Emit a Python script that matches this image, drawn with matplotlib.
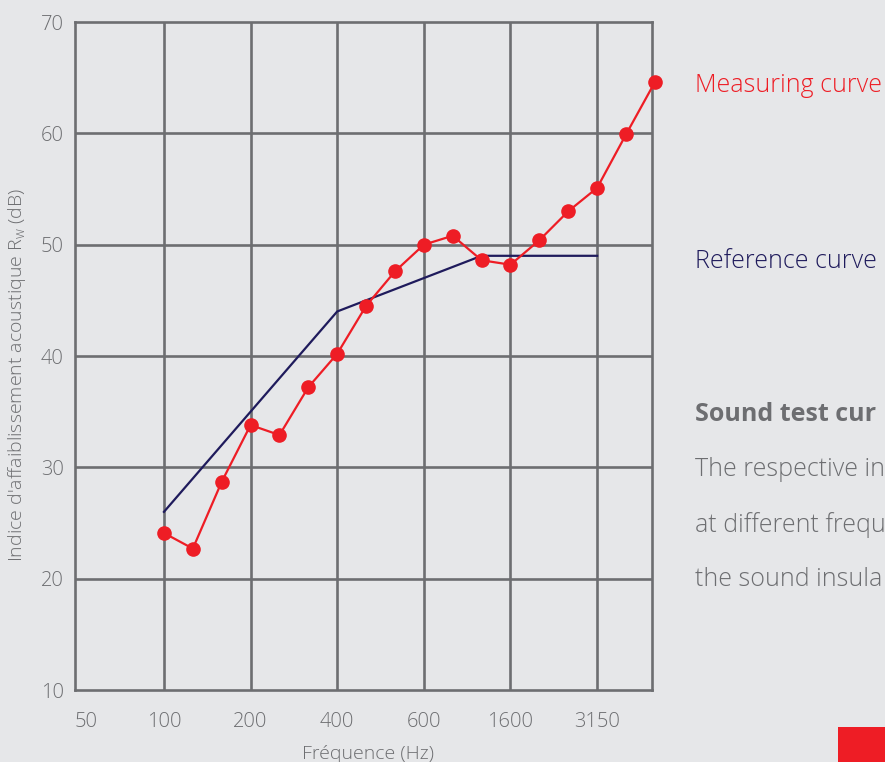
import matplotlib
matplotlib.use("Agg")
import matplotlib.pyplot as plt
from matplotlib.patches import Rectangle
import numpy as np

# Data (third-octave bands 100 Hz .. 5000 Hz, indexed 0..17)
bands = ["100", "125", "160", "200", "250", "315", "400", "500", "630", "800",
         "1000", "1250", "1600", "2000", "2500", "3150", "4000", "5000"]
measuring = [24.1, 22.7, 28.7, 33.8, 32.9, 37.2, 40.2, 44.5, 47.6, 50.0,
             50.8, 48.6, 48.2, 50.4, 53.0, 55.1, 59.9, 64.6]
reference = [26, 29, 32, 35, 38, 41, 44, 45, 46, 47, 48, 49, 49, 49, 49, 49]
tick_labels = ["50", "100", "200", "400", "600", "1600", "3150"]
y_ticks = [10, 20, 30, 40, 50, 60, 70]

RED = "#ee1d25"
NAVY = "#1f1b5c"
GRAY = "#6d6e71"
BG = "#e6e7e9"

plt.rcParams["font.family"] = ["Open Sans", "DejaVu Sans"]

fig = plt.figure(figsize=(8.85, 7.62), dpi=100, facecolor=BG)
ax = fig.add_axes([75/885, 1-690/762, (652-75)/885, (690-22)/762])
ax.set_facecolor(BG)

x_meas = np.arange(len(measuring))
x_ref = np.arange(len(reference))

ax.set_xlim(-3.08, 16.9)
ax.set_ylim(10, 70)

# grid
for gx in [0, 3, 6, 9, 12, 15]:
    ax.axvline(gx, color=GRAY, lw=1.9, zorder=1)
for gy in y_ticks[1:-1]:
    ax.axhline(gy, color=GRAY, lw=1.9, zorder=1)
for s in ax.spines.values():
    s.set_color(GRAY)
    s.set_linewidth(1.9)

ax.plot(x_ref, reference, color=NAVY, lw=1.6, zorder=3, solid_joinstyle="miter")
ax.plot(x_meas, measuring, color=RED, lw=1.6, marker="o", markersize=9.5,
        markerfacecolor=RED, markeredgecolor=RED, zorder=4, clip_on=False)

ax.set_xticks([-2.7, 0, 3, 6, 9, 12, 15])
ax.set_xticklabels(tick_labels)
ax.set_yticks(y_ticks)
ax.tick_params(length=0, colors=GRAY, labelsize=14.5)
ax.tick_params(axis="x", pad=16)
ax.tick_params(axis="y", pad=8)
for lab in ax.get_xticklabels() + ax.get_yticklabels():
    lab.set_fontweight("light")

ax.set_xlabel("Fréquence (Hz)", color=GRAY, fontsize=14, fontweight="light", labelpad=9)
ax.set_ylabel("Indice d'affaiblissement acoustique R$_{\\mathregular{w}}$ (dB)",
              color=GRAY, fontsize=14, fontweight="light")
ax.yaxis.set_label_coords(-0.082, 0.472)
ax.xaxis.label.set_x(0.508)

# right-hand texts
def fy(py):
    return 1 - py/762

fs = 18
fig.text(695/885, fy(85), "Measuring curve", color=RED, fontsize=fs,
         fontweight="light", va="center", ha="left")
fig.text(695/885, fy(261), "Reference curve", color=NAVY, fontsize=fs,
         fontweight="light", va="center", ha="left")
fig.text(695/885, fy(415), "Sound test cur", color=GRAY, fontsize=fs,
         fontweight="bold", va="center", ha="left")
fig.text(695/885, fy(470), "The respective in", color=GRAY, fontsize=fs,
         fontweight="light", va="center", ha="left")
fig.text(695/885, fy(525), "at different frequ", color=GRAY, fontsize=fs,
         fontweight="light", va="center", ha="left")
fig.text(695/885, fy(580), "the sound insula", color=GRAY, fontsize=fs,
         fontweight="light", va="center", ha="left")

fig.patches.append(Rectangle((838/885, 0), 47/885, 35/762, transform=fig.transFigure,
                             facecolor=RED, edgecolor="none"))

fig.savefig("out.png", dpi=100, facecolor=BG)
